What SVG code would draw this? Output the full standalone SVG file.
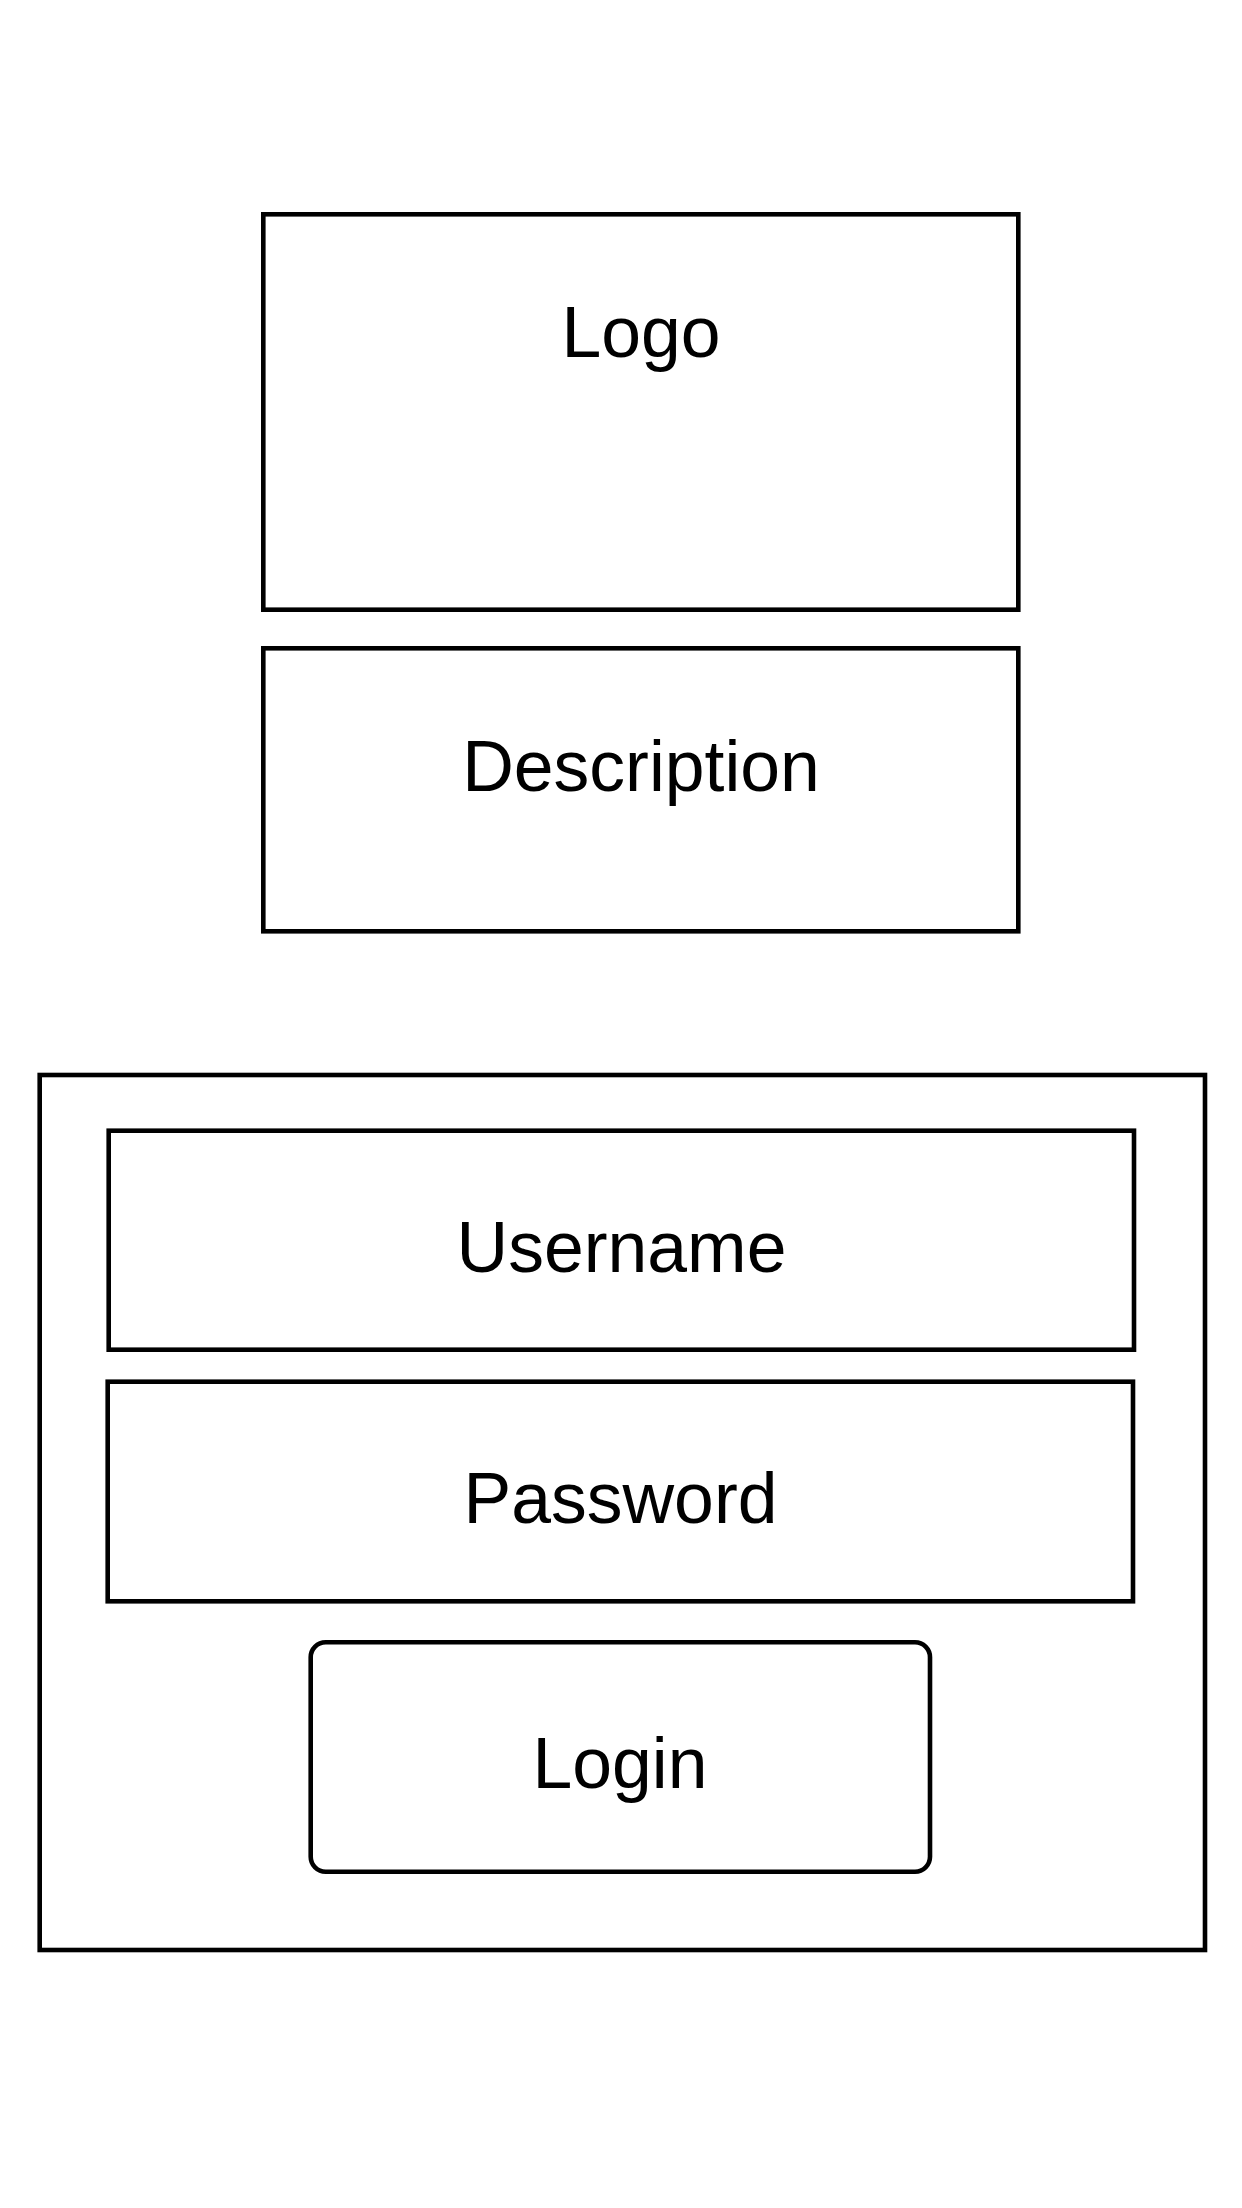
<svg xmlns="http://www.w3.org/2000/svg" width="1242" height="2208" viewBox="0 0 1242 2208">
  <style>
    .box { fill: #ffffff; stroke: #000000; stroke-width: 4.6; }
    .lbl { font-family: "Liberation Sans", Arial, Helvetica, sans-serif; font-size: 71.5px; fill: #000000; text-anchor: middle; }
  </style>
  <rect x="0" y="0" width="1242" height="2208" fill="#ffffff"/>
  <g id="logo">
    <rect class="box" x="263.3" y="214.3" width="755" height="395.4"/>
    <text class="lbl" x="641" y="357">Logo</text>
  </g>
  <g id="description">
    <rect class="box" x="263.3" y="648.3" width="755" height="283"/>
    <text class="lbl" x="641" y="790.5">Description</text>
  </g>
  <g id="login-form">
    <rect class="box" x="39.7" y="1075" width="1165.3" height="875"/>
  </g>
  <g id="username">
    <rect class="box" x="108.7" y="1130.7" width="1025.3" height="219"/>
    <text class="lbl" x="621.5" y="1271.5">Username</text>
  </g>
  <g id="password">
    <rect class="box" x="107.7" y="1381.7" width="1025.3" height="219.6"/>
    <text class="lbl" x="620.5" y="1522.5">Password</text>
  </g>
  <g id="login">
    <rect class="box" x="310.7" y="1642.3" width="619.3" height="229.5" rx="15" ry="15"/>
    <text class="lbl" x="620" y="1787.5">Login</text>
  </g>
  <g id="connectors"></g>
</svg>
